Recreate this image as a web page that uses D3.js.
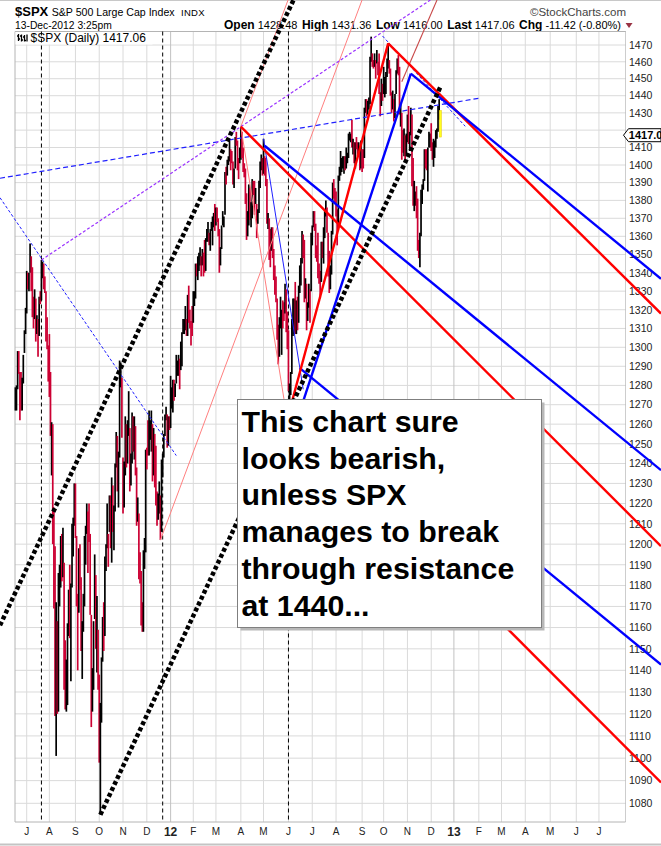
<!DOCTYPE html>
<html><head><meta charset="utf-8">
<script src="https://cdn.jsdelivr.net/npm/d3@7"></script>
<style>body{margin:0;background:#fff}svg{display:block}text{font-family:"Liberation Sans",Arial,Helvetica,sans-serif}</style>
</head><body><svg id="c" width="661" height="846"></svg>
<script>
// ---------- DATA ----------
const holidays = ["2011-05-30","2011-07-04","2011-09-05","2011-11-24","2011-12-26","2012-01-02","2012-01-16","2012-02-20","2012-04-06","2012-05-28","2012-07-04","2012-09-03","2012-10-29","2012-10-30","2012-11-22","2012-12-25","2013-01-01"];
const dataStart = "2011-06-17";
const highs = [
1279,1280,1298,1298,1287,1287,1284,1296,1309,1321,
1341,1340,1340,1356,1349,1343,1327,1331,1326,1317,1315,1327,1330,1347,1346,1345,1338,1330,1316,1301,
1307,1287,1261,1260,1218,1199,1172,1163,1186,1190,1204,1205,1208,1191,1154,1145,1162,1178,1190,1181,1210,1213,1230,
1230,1204,1176,1198,1200,1184,1163,1176,1204,1209,1220,1216,1220,1205,1166,1141,1163,1195,1185,1175,1159,
1138,1125,1146,1165,1172,1194,1200,1220,1205,1224,1224,1233,1229,1219,1240,1256,1254,1246,1293,1292,1284,
1243,1241,1264,1260,1262,1277,1258,1245,1266,1264,1264,1259,1238,1223,1215,1196,1187,1172,1197,1203,1247,
1248,1262,1267,1262,1267,1260,1258,1255,1249,1226,1225,1231,1224,1242,1245,1255,1265,1269,1265,1264,1264,
1285,1279,1283,1283,1281,1296,1293,1296,1294,1303,1308,1315,1315,1322,1315,1328,1333,1320,1314,1322,
1330,1330,1345,1345,1349,1351,1354,1349,1353,1351,1358,1359,1364,1368,1362,1364,1368,1371,1373,1378,
1376,1376,1370,1364,1354,1366,1374,1371,1396,1399,1403,1405,1414,1409,1408,1402,1398,1416,1419,1414,1404,1410,
1422,1419,1410,1401,1398,1384,1374,1389,1387,1379,1392,1391,1391,1387,1378,1375,1391,1402,1406,1404,
1415,1405,1404,1392,1373,1370,1364,1365,1365,1353,1344,1338,1326,1312,1316,1327,1320,1325,1324,1334,1331,1319,
1309,1281,1287,1315,1326,1326,1335,1325,1327,1333,1344,1348,1363,1361,1358,1337,1334,1324,1334,1331,1362,
1366,1374,1374,1367,1355,1362,1345,1341,1357,1357,1365,1375,1380,1376,1362,1352,1344,1363,1390,1392,1387,
1385,1375,1394,1399,1408,1404,1405,1405,1405,1410,1407,1418,1419,1418,1426,1415,1413,1413,1416,1413,1413,1411,1414,
1409,1409,1433,1438,1438,1437,1439,1463,1475,1465,1461,1465,1461,1467,1460,1465,1442,1450,1447,
1457,1451,1454,1462,1471,1461,1456,1442,1443,1438,1441,1455,1462,1464,1457,1435,1430,1420,1421,1417,1418,
1429,1434,1419,1433,1429,1404,1391,1385,1388,1381,1358,1362,1386,1389,1392,1409,1409,1409,1410,1419,1418,
1424,1413,1415,1414,1420,1421,1434,1438,1431.36];
const lows = [
1267,1267,1278,1286,1262,1267,1267,1281,1297,1307,
1318,1331,1330,1340,1330,1316,1310,1315,1303,1307,1295,1306,1323,1325,1337,1331,1329,1303,1299,1282,
1274,1254,1234,1200,1169,1119,1101,1120,1121,1170,1179,1182,1184,1131,1122,1121,1124,1156,1155,1135,1179,1194,1209,
1203,1170,1140,1167,1178,1149,1136,1158,1170,1190,1205,1186,1201,1166,1114,1121,1131,1164,1150,1139,1131,
1098,1075,1116,1144,1149,1156,1187,1198,1189,1206,1198,1191,1206,1197,1216,1238,1226,1218,1243,1279,1253,
1215,1218,1234,1238,1240,1254,1226,1229,1240,1246,1242,1234,1209,1211,1183,1181,1161,1158,1158,1188,1196,
1237,1244,1244,1252,1246,1231,1234,1228,1219,1209,1212,1215,1202,1206,1233,1243,1254,1262,1248,1249,1257,
1258,1268,1266,1272,1274,1281,1285,1285,1278,1288,1290,1307,1307,1309,1306,1306,1313,1310,1301,1306,
1313,1322,1326,1338,1336,1341,1344,1338,1344,1338,1340,1341,1357,1357,1355,1352,1363,1355,1365,1363,
1366,1368,1360,1340,1344,1353,1366,1365,1372,1389,1394,1400,1402,1397,1401,1389,1387,1398,1411,1397,1392,1401,
1403,1404,1396,1393,1378,1358,1360,1366,1369,1365,1370,1383,1372,1378,1359,1367,1373,1387,1397,1394,
1395,1394,1388,1367,1364,1347,1343,1352,1348,1336,1328,1324,1304,1291,1295,1310,1296,1310,1314,1318,1308,1299,
1277,1267,1275,1286,1306,1307,1307,1307,1309,1313,1329,1333,1345,1348,1324,1326,1309,1314,1321,1313,1330,
1355,1365,1363,1348,1346,1337,1334,1326,1335,1348,1345,1359,1371,1362,1338,1329,1331,1339,1361,1381,1378,
1371,1355,1367,1391,1394,1396,1398,1395,1397,1398,1401,1404,1414,1413,1410,1406,1401,1398,1409,1405,1406,1397,1398,
1396,1398,1404,1430,1428,1429,1432,1435,1460,1457,1456,1457,1450,1459,1452,1441,1428,1434,1437,
1441,1439,1441,1451,1456,1453,1440,1430,1432,1425,1427,1441,1453,1452,1429,1422,1403,1407,1405,1403,1405,
1413,1412,1408,1417,1388,1377,1374,1377,1370,1352,1348,1343,1360,1378,1386,1391,1398,1397,1385,1410,1410,
1408,1403,1399,1404,1410,1415,1419,1426,1416];
const closes = [
1272,1278,1296,1287,1284,1268,1280,1297,1307,1321,
1340,1338,1339,1353,1344,1320,1314,1318,1309,1316,1305,1327,1326,1344,1345,1337,1332,1305,1301,1292,
1287,1254,1260,1200,1199,1120,1173,1121,1173,1179,1205,1193,1194,1141,1124,1124,1162,1178,1159,1177,1210,1213,1219,
1204,1174,1165,1199,1186,1154,1162,1173,1189,1209,1216,1204,1202,1167,1130,1136,1163,1175,1151,1160,1131,
1099,1124,1144,1165,1156,1195,1196,1207,1204,1225,1201,1225,1210,1215,1238,1254,1229,1242,1285,1285,1253,
1218,1238,1261,1253,1261,1276,1229,1240,1264,1252,1258,1237,1216,1216,1193,1188,1162,1159,1193,1195,1247,
1245,1244,1257,1259,1261,1234,1255,1237,1226,1212,1216,1220,1205,1241,1244,1254,1265,1265,1250,1263,1258,
1277,1277,1281,1278,1281,1292,1293,1296,1289,1294,1308,1315,1315,1316,1315,1326,1318,1316,1313,1312,
1324,1326,1345,1344,1347,1350,1352,1343,1352,1351,1343,1358,1361,1362,1358,1364,1366,1368,1372,1366,
1374,1370,1364,1343,1353,1366,1371,1371,1396,1394,1403,1404,1410,1406,1403,1393,1397,1417,1413,1406,1403,1408,
1419,1413,1399,1398,1382,1359,1369,1388,1370,1370,1391,1385,1377,1379,1367,1372,1391,1400,1403,1398,
1406,1402,1392,1369,1370,1364,1355,1358,1353,1338,1331,1325,1305,1295,1316,1318,1321,1320,1318,1332,1313,1310,
1278,1278,1286,1315,1315,1326,1309,1324,1315,1329,1343,1345,1358,1356,1326,1335,1314,1320,1332,1329,1362,
1366,1374,1368,1355,1353,1342,1341,1335,1357,1354,1364,1373,1377,1363,1351,1338,1338,1360,1386,1385,1379,
1375,1365,1391,1394,1401,1402,1403,1406,1404,1404,1406,1416,1418,1418,1413,1414,1402,1411,1410,1409,1411,1400,1407,
1405,1403,1432,1438,1429,1434,1437,1460,1466,1461,1459,1461,1460,1460,1457,1442,1433,1447,1441,
1445,1446,1451,1461,1461,1456,1442,1433,1433,1429,1440,1455,1461,1457,1433,1434,1413,1409,1413,1412,1412,
1428,1414,1417,1428,1395,1378,1380,1380,1375,1356,1353,1360,1387,1388,1391,1409,1406,1399,1410,1416,1416,
1410,1407,1409,1414,1418,1419,1428,1429,1417.06];

const monthLabels = ["J","A","S","O","N","D","12","F","M","A","M","J","J","A","S","O","N","D","13","F","M","A","M","J","J"];
const yTickValues = [1080,1090,1100,1110,1120,1130,1140,1150,1160,1170,1180,1190,1200,1210,1220,1230,1240,1250,1260,1270,1280,1290,1300,1310,1320,1330,1340,1350,1360,1370,1380,1390,1400,1410,1420,1430,1440,1450,1460,1470];
const cycleDates = ["2011-07-21","2011-12-21","2012-06-01"];

// trend lines: pairs of [date, price] anchors
const dottedUpper = [["2011-10-27",1287.8],["2012-04-02",1430.4]];
const dottedLower = [["2011-10-04",1075],["2012-12-13",1445]];
const purpleFan = [["2011-07-21",1347],["2012-04-02",1422]];
const blueResistance = [["2011-07-21",1396.4],["2013-02-01",1438.5]];
const blueDownTrend = [["2011-07-07",1357],["2012-01-10",1244]];
const salmonFromDecLow = [["2011-12-19",1202],["2012-06-15",1399]];
const salmonAprToJun = [["2012-04-02",1422],["2012-05-25",1273]];
const salmonAprUp = [["2012-04-02",1422],["2012-05-31",1496]];
const darkRedTop = [["2012-10-23",1448.2],["2012-12-10",1497]];
const redRise = [["2012-06-04",1267],["2012-10-05",1471]];
const blueRise = [["2012-06-19",1270],["2012-11-06",1453]];
const blueThin = [["2012-05-01",1415],["2012-06-20",1278]];
const blueDashTop = [["2012-09-28",1475.4],["2013-01-16",1422.2]];
const redFork = [
  [["2012-10-05",1471],["2013-06-03",1363.7]],
  [["2012-04-02",1422],["2013-06-03",1241]],
  [["2012-06-04",1267],["2013-06-03",1127.4]]];
const blueFork = [
  [["2012-11-06",1453],["2013-06-03",1375]],
  [["2012-05-02",1411],["2013-06-03",1272]],
  [["2012-06-15",1289],["2013-06-03",1175.4]]];

const titleSymbol = "$SPX", titleName = "S&P 500 Large Cap Index", titleExch = "INDX";
const stampText = "13-Dec-2012 3:25pm";
const quoteItems = [["Open","1428.48"],["High","1431.36"],["Low","1416.00"],["Last","1417.06"],["Chg","-11.42 (-0.80%)"]];
const legendText = "$SPX (Daily) 1417.06";
const tagText = "1417.0";
const noteLines = ["This chart sure","looks bearish,","unless SPX","manages to break","through resistance","at 1440..."];

// ---------- SETUP ----------
const W = 661, H = 846;
const PL = 15, PR = 625.5, PT = 31.5, PB = 822;
const fmt = d3.utcFormat("%Y-%m-%d"), parse = d3.utcParse("%Y-%m-%d");
const hol = new Set(holidays);
const calendar = d3.utcDay.range(parse("2011-05-02"), parse("2013-09-02"))
  .filter(d => d.getUTCDay() % 6 !== 0 && !hol.has(fmt(d)));
const calIndex = new Map(calendar.map((d, i) => [fmt(d), i]));
const idx = s => calIndex.get(s);
const x = d3.scaleLinear().domain([idx("2011-07-01"), idx("2012-12-13")]).range([26.7, 440.3]);
const y = d3.scaleLog().domain([1470, 1080]).range([45, 803.3]);
const xd = s => x(idx(s));

const svg = d3.select("#c");
svg.append("rect").attr("width", W).attr("height", H).attr("fill", "#fff");

// top / bottom rules
svg.append("line").attr("x1",0).attr("x2",W).attr("y1",0.5).attr("y2",0.5).attr("stroke","#c8c8c8");
svg.append("line").attr("x1",0).attr("x2",W).attr("y1",844.5).attr("y2",844.5).attr("stroke","#c4c4c4").attr("stroke-width",2);

// header
const hdr = svg.append("g");
hdr.append("text").attr("x",15).attr("y",16.3).attr("font-size",13).attr("font-weight","bold").text(titleSymbol);
hdr.append("text").attr("x",51.7).attr("y",16.3).attr("font-size",10.6).text(titleName);
hdr.append("text").attr("x",181).attr("y",16.3).attr("font-size",9.5).attr("letter-spacing",0.3).text(titleExch);
hdr.append("text").attr("x",626).attr("y",16.3).attr("font-size",11.5).attr("fill","#444").attr("text-anchor","end").text("\u00A9StockCharts.com");
hdr.append("text").attr("x",15).attr("y",29).attr("font-size",10.3).text(stampText);
let qx = 224;
quoteItems.forEach(([lab, val]) => {
  const t1 = hdr.append("text").attr("x",qx).attr("y",29).attr("font-size",12).attr("font-weight","bold").text(lab);
  qx += t1.node().getComputedTextLength() + 3;
  const t2 = hdr.append("text").attr("x",qx).attr("y",29).attr("font-size",11).text(val);
  qx += t2.node().getComputedTextLength() + 4.5;
});
hdr.append("path").attr("d",`M${qx},${23} h7 l-3.5,5 z`).attr("fill","#993344");

// grid
const grid = svg.append("g");
yTickValues.forEach(v => {
  grid.append("line").attr("x1",PL).attr("x2",PR).attr("y1",y(v)).attr("y2",y(v)).attr("stroke","#dadada");
});
const months = d3.utcMonth.range(parse("2011-07-01"), parse("2013-08-01"));
const monthX = months.map(m => x(d3.bisector(d => d).left(calendar, m)));
monthX.forEach((mx, k) => {
  const yr = monthLabels[k] === "12" || monthLabels[k] === "13";
  grid.append("line").attr("x1",mx).attr("x2",mx).attr("y1",PT).attr("y2",PB)
    .attr("stroke", yr ? "#c2c2c2" : "#dadada");
});
// frame
svg.append("path").attr("d",`M${PR},${PT} H${PL} V${PB} H${PR}`).attr("fill","none").attr("stroke","#b4b4b4");
svg.append("line").attr("x1",PR).attr("x2",PR).attr("y1",PT).attr("y2",PB).attr("stroke","#9a9a9a").attr("stroke-dasharray","1,1");

// legend
svg.append("rect").attr("x",PL+0.5).attr("y",PT+0.5).attr("width",137).attr("height",12.5).attr("fill","#fff");
svg.append("path").attr("d","M18.5,34 v7 M18.5,36 h-1.5 M18.5,39 h1.5 M21.5,34.5 v7 M21.5,36 h-1.5 M21.5,40 h1.5").attr("stroke","#000").attr("stroke-width",1.3).attr("fill","none");
svg.append("path").attr("d","M24.5,35 v6.5 M24.5,37 h-1.5 M24.5,40.5 h1.5 M27,34.5 v7").attr("stroke","#000").attr("stroke-width",1.3).attr("fill","none");
svg.append("text").attr("x",30.5).attr("y",41.6).attr("font-size",12).text(legendText);

// x labels
monthX.forEach((mx, k) => {
  const yr = monthLabels[k] === "12" || monthLabels[k] === "13";
  svg.append("text").attr("x",mx).attr("y", yr ? 835.5 : 834.5).attr("text-anchor","middle")
    .attr("font-size", yr ? 12 : 10).attr("font-weight", yr ? "bold" : "normal").attr("fill","#222")
    .text(monthLabels[k]);
});
// y labels (the one under the last-price tag is hidden, as in the original)
const nBars = Math.min(highs.length, lows.length, closes.length);
const lastClose = closes[nBars-1], ty = y(lastClose);
yTickValues.forEach(v => {
  if (Math.abs(y(v) - ty) < 8) return;
  svg.append("text").attr("x",629).attr("y",y(v)).attr("dy","0.36em").attr("font-size",10.5).attr("fill","#222").text(v);
});

// cycle lines
cycleDates.forEach(d => {
  svg.append("line").attr("x1",xd(d)).attr("x2",xd(d)).attr("y1",PT).attr("y2",PB)
    .attr("stroke","#000").attr("stroke-dasharray","4,3");
});

// price bars
const i0 = idx(dataStart);
const bars = svg.append("g");
for (let i = 0; i < nBars; i++) {
  const up = i === 0 ? true : closes[i] >= closes[i-1];
  if (i === nBars - 1) {
    bars.append("rect").attr("x", x(i0+i)-1.1).attr("width",2.2).attr("y", y(highs[i]))
      .attr("height", y(lows[i]) - y(highs[i])).attr("fill","#ffff20").attr("stroke","#e8c800").attr("stroke-width",0.5);
  } else {
    bars.append("line").attr("x1", x(i0+i)).attr("x2", x(i0+i)).attr("y1", y(highs[i])).attr("y2", y(lows[i]))
      .attr("stroke", up ? "#000" : "#cc0033").attr("stroke-width",1.7);
  }
}

// trend lines
const BX0 = 0, BX1 = W, BY0 = 0, BY1 = PB;
function extendPt(from, to) {
  const dx = to[0]-from[0], dy = to[1]-from[1];
  let t = Infinity;
  if (dx > 0) t = Math.min(t, (BX1-from[0])/dx); else if (dx < 0) t = Math.min(t, (BX0-from[0])/dx);
  if (dy > 0) t = Math.min(t, (BY1-from[1])/dy); else if (dy < 0) t = Math.min(t, (BY0-from[1])/dy);
  return [from[0]+t*dx, from[1]+t*dy];
}
const ann = svg.append("g");
function drawLine(anchors, extA, extB, stroke, width, dash) {
  const p = [xd(anchors[0][0]), y(anchors[0][1])], q = [xd(anchors[1][0]), y(anchors[1][1])];
  const s = extA ? extendPt(q, p) : p;
  const e = extB ? extendPt(p, q) : q;
  const l = ann.append("line").attr("x1",s[0]).attr("y1",s[1]).attr("x2",e[0]).attr("y2",e[1])
    .attr("stroke",stroke).attr("stroke-width",width);
  if (dash) l.attr("stroke-dasharray",dash);
}
drawLine(salmonFromDecLow, false, true, "#ff7f7f", 1);
drawLine(salmonAprToJun, false, false, "#ff7f7f", 1);
drawLine(salmonAprUp, false, true, "#ff7f7f", 1);
drawLine(darkRedTop, false, true, "#c84848", 1.1);
drawLine(blueDownTrend, true, false, "#2020ff", 1, "3,2");
drawLine(blueResistance, true, false, "#2020ff", 1.2, "5,3");
drawLine(purpleFan, false, true, "#9a32ff", 1.2, "3,2");
drawLine(blueDashTop, false, false, "#2020ff", 1, "3,2");
drawLine(blueThin, false, false, "#2020ff", 1);
redFork.forEach(a => drawLine(a, false, true, "#ff0000", 2.4));
blueFork.forEach(a => drawLine(a, false, true, "#0000ff", 2.4));
drawLine(redRise, false, false, "#ff0000", 2.4);
drawLine(blueRise, false, false, "#0000ff", 2.4);
drawLine(dottedUpper, true, true, "#000", 4.5, "4,2.6");
drawLine(dottedLower, false, false, "#000", 4.5, "4,2.6");

// note box
const bx = 237.5, by = 399.5, bw = 304, bh = 228;
svg.append("rect").attr("x",bx+3).attr("y",by+3).attr("width",bw).attr("height",bh).attr("fill","#b8b8b8");
svg.append("rect").attr("x",bx).attr("y",by).attr("width",bw).attr("height",bh).attr("fill","#fff").attr("stroke","#7f7f7f");
noteLines.forEach((t, k) => {
  svg.append("text").attr("x",241.5).attr("y",431.7 + k*36.8).attr("font-size",30.3).attr("font-weight","bold").text(t);
});

// last price tag
svg.append("path").attr("d",`M623.5,${ty} L628.5,${ty-6.5} H661 V${ty+6.5} H628.5 Z`).attr("fill","#fff").attr("stroke","#000").attr("stroke-width",1);
svg.append("text").attr("x",628.8).attr("y",ty+4).attr("font-size",11).attr("font-weight","bold").text(tagText);
</script></body></html>
